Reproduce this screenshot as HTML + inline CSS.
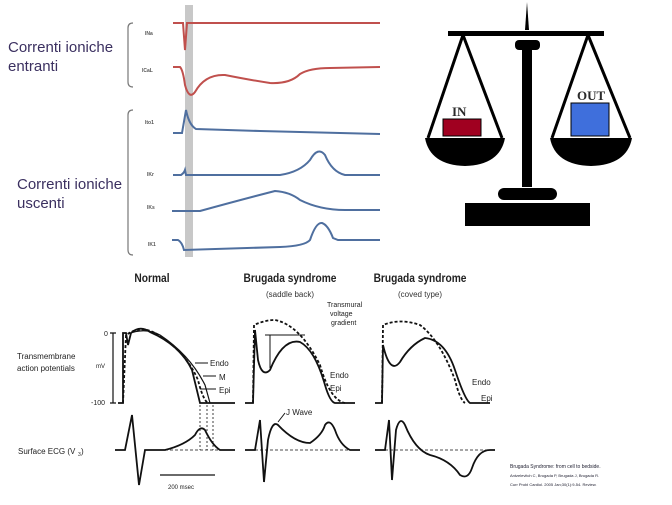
<!DOCTYPE html>
<html><head><meta charset="utf-8"><style>
body{margin:0;background:#fff;}
svg{display:block;font-family:"Liberation Sans",sans-serif;}
</style></head><body>
<svg width="672" height="505" viewBox="0 0 672 505">
<rect width="672" height="505" fill="#fff"/>
<rect x="185" y="5" width="8" height="252" fill="#c8c8c8"/>
<path d="M133 23 Q128 23 128 28 L128 82 Q128 87 133 87" fill="none" stroke="#777" stroke-width="1.2"/>
<path d="M133 110 Q128 110 128 115 L128 250 Q128 255 133 255" fill="none" stroke="#777" stroke-width="1.2"/>
<g font-size="15" fill="#3b3060">
<text x="8" y="52">Correnti ioniche</text><text x="8" y="71">entranti</text>
<text x="17" y="189">Correnti ioniche</text><text x="17" y="208">uscenti</text>
</g>
<g font-size="5" font-weight="bold" fill="#555">
<text x="145" y="35">INa</text><text x="142" y="72">ICaL</text><text x="145" y="124">Ito1</text>
<text x="147" y="176">IKr</text><text x="147" y="209">IKs</text><text x="148" y="246">IK1</text>
</g>
<g fill="none" stroke="#c0504d" stroke-width="2">
<path d="M173 23 L183 23 L185 50 L187 23 L380 23"/>
<path d="M173 67 L180 67 Q183 70 185 85 Q189 100 195 92 Q205 74 225 75 Q250 80 270 83 Q290 84 300 74 Q310 68 330 68 L380 67"/>
</g>
<g fill="none" stroke="#4f6f9f" stroke-width="2">
<path d="M173 133 L182 133 L186 110 Q189 125 196 129 L260 131 L380 134"/>
<path d="M173 175 L181 175 Q184 173 185 170 L186 175 L280 175 Q300 172 310 160 Q318 146 325 155 Q332 172 345 175 L380 175"/>
<path d="M172 211 L200 211 Q240 200 275 191 Q290 192 300 200 Q320 210 345 210 L380 210"/>
<path d="M172 240 L178 240 Q182 242 184 250 L280 247 Q305 246 310 240 Q316 222 322 223 Q328 225 333 238 L338 240 L380 240"/>
</g>
<g fill="#000">
<path d="M525 30 L527 2 L529 30 Z"/>
<rect x="448" y="31" width="156" height="5"/>
<rect x="515" y="40" width="25" height="10" rx="4"/>
<rect x="522" y="50" width="10" height="137"/>
<rect x="498" y="188" width="59" height="12" rx="6"/>
<rect x="465" y="203" width="125" height="23"/>
<path d="M425 138 L505 138 Q500 165 465 166 Q430 165 425 138 Z"/>
<path d="M550 138 L632 138 Q627 165 591 166 Q555 165 550 138 Z"/>
</g>
<g stroke="#000" stroke-width="3" fill="none">
<path d="M463 35 L428 138 M463 35 L502 138"/>
<path d="M588 35 L552 138 M588 35 L630 138"/>
</g>
<rect x="443" y="119" width="38" height="17" fill="#a00020" stroke="#000"/>
<rect x="571" y="103" width="38" height="33" fill="#3f6fdc" stroke="#000"/>
<g font-family="Liberation Serif,serif" font-size="13" font-weight="bold" fill="#2a2a2a">
<text x="452" y="116">IN</text><text x="577" y="100">OUT</text>
</g>
<g font-size="12" font-weight="bold" fill="#222" text-anchor="middle">
<text x="152" y="282" transform="scale(0.85,1)" transform-origin="152 282">Normal</text>
<text x="290" y="282" transform="scale(0.85,1)" transform-origin="290 282">Brugada syndrome</text>
<text x="420" y="282" transform="scale(0.85,1)" transform-origin="420 282">Brugada syndrome</text>
</g>
<g font-size="8" fill="#333" text-anchor="middle">
<text x="290" y="297">(saddle back)</text><text x="420" y="297">(coved type)</text>
</g>
<g font-size="8" fill="#222">
<text x="17" y="359">Transmembrane</text><text x="17" y="371">action potentials</text>
<text x="96" y="368" font-size="6">mV</text>
<text x="104" y="336" font-size="7">0</text><text x="91" y="405" font-size="7">-100</text>
<text x="18" y="454">Surface ECG (V</text><text x="78" y="456" font-size="5">3</text><text x="81" y="454">)</text>
<text x="210" y="366">Endo</text><text x="219" y="380">M</text><text x="219" y="393">Epi</text>
<text x="330" y="378">Endo</text><text x="330" y="391">Epi</text>
<text x="327" y="307" font-size="7">Transmural</text><text x="330" y="316" font-size="7">voltage</text><text x="331" y="325" font-size="7">gradient</text>
<text x="472" y="385">Endo</text><text x="481" y="401">Epi</text>
<text x="286" y="415">J Wave</text>
<text x="168" y="489" font-size="6">200 msec</text>
</g>
<g font-size="5" fill="#223">
<text x="510" y="468">Brugada Syndrome: from cell to bedside.</text>
<text x="510" y="477" font-size="4">Antzelevitch C, Brugada P, Brugada J, Brugada R.</text>
<text x="510" y="486" font-size="4">Curr Probl Cardiol. 2005 Jan;30(1):9-54. Review.</text>
</g>
<g fill="none" stroke="#111" stroke-width="1.8">
<path d="M113 333 L113 403 M110 333 L116 333 M110 403 L116 403" stroke-width="1.2"/>
<path d="M118 403 L123 403 L123 333 L126 333 L128 345 L131 333 Q140 325 150 332 Q180 345 192 370 Q198 395 200 403 L235 403"/>
<path d="M123 403 L126 335 Q140 325 155 333 Q185 350 198 380 Q203 400 208 403" stroke-dasharray="3,2"/>
<path d="M128 334 Q145 327 160 335 Q190 355 205 385 L210 403" stroke-width="1.2"/>
<path d="M195 363 L208 363 M203 376 L216 376 M200 389 L216 389" stroke-width="1"/>
<path d="M200 405 L200 450 M207 405 L207 450 M213 405 L213 450" stroke-dasharray="2,2" stroke-width="0.8"/>
<path d="M115 450 L125 450 L132 415 L139 485 L145 450 L165 450 Q185 445 195 435 Q200 425 205 430 Q212 445 220 450 L235 450"/>
<path d="M165 450 L235 450" stroke-dasharray="3,2" stroke-width="0.8"/>
<path d="M160 475 L215 475" stroke-width="1.2"/>
<path d="M245 403 L253 403 L255 330 L258 360 Q262 378 270 370 Q283 338 300 342 Q315 350 325 385 Q330 402 335 403 L355 403"/>
<path d="M253 403 L254 325 Q265 320 275 320 Q300 325 320 365 Q330 400 345 403" stroke-dasharray="3,2"/>
<path d="M270 335 L270 368 M265 335 L305 335" stroke-width="1"/>
<path d="M245 450 L255 450 L260 420 L264 482 L268 440 Q272 420 278 425 Q295 443 310 443 Q322 435 325 425 Q330 418 335 430 Q340 445 350 450 L360 450"/>
<path d="M255 450 L355 450" stroke-dasharray="3,2" stroke-width="0.8"/>
<path d="M285 413 L278 422" stroke-width="1"/>
<path d="M375 403 L382 403 L383 345 Q390 375 400 362 Q410 345 425 338 Q445 340 455 370 Q465 400 470 403 L490 403"/>
<path d="M382 403 L383 325 Q400 318 420 325 Q440 340 455 380 Q460 400 465 403" stroke-dasharray="3,2"/>
<path d="M375 450 L385 450 L389 420 L392 480 L396 430 Q400 415 405 425 Q415 450 430 455 Q450 460 460 475 Q468 480 472 468 Q478 450 490 450 L495 450"/>
<path d="M385 450 L490 450" stroke-dasharray="3,2" stroke-width="0.8"/>
</g>
</svg>
</body></html>
